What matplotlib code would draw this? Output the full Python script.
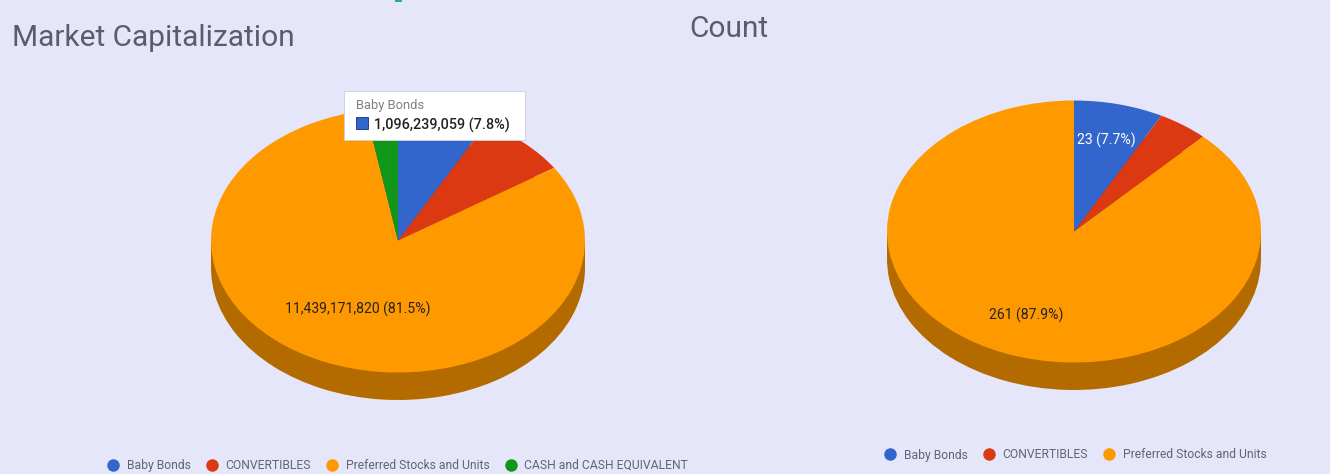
import matplotlib
matplotlib.use('Agg')
import matplotlib.pyplot as plt
from matplotlib.lines import Line2D
from matplotlib.patches import Rectangle

W, H = 1330, 474
BG = '#e6e6fa'
plt.rcParams['font.family'] = ['Roboto', 'DejaVu Sans']

# data
cap_labels = ['Baby Bonds', 'CONVERTIBLES', 'Preferred Stocks and Units', 'CASH and CASH EQUIVALENT']
cap_values = [1096239059, 1110000000, 11439171820, 391000000]
count_labels = ['Baby Bonds', 'CONVERTIBLES', 'Preferred Stocks and Units']
count_values = [23, 13, 261]

colors = ['#3366cc', '#dc3912', '#ff9900', '#109618']
dark_colors = ['#244a94', '#9f290d', '#b36b00', '#0b6b11']
title_color = '#5b5b6e'
legend_color = '#5f6675'


def px(x, y):
    return x / W, 1 - y / H


fig = plt.figure(figsize=(W / 100, H / 100), dpi=100, facecolor=BG)


def pie3d(values, cx, cy, rx, ry, depth):
    top = cy - ry
    bottom = cy + ry + depth
    ax = fig.add_axes([(cx - rx - 2) / W, 1 - (bottom + 2) / H, (2 * rx + 4) / W, (bottom - top + 4) / H])
    d = depth / ry
    n = len(values)
    # side of the pie: same slices moved down, then joined up with a band
    ax.pie(values, colors=dark_colors[:n], startangle=90, counterclock=False, center=(0, -d), radius=1)
    ax.add_patch(Rectangle((-1, -d), 2, d, color=dark_colors[2], lw=0))
    ax.pie(values, colors=colors[:n], startangle=90, counterclock=False, center=(0, 0), radius=1)
    ax.set_aspect('auto')
    ax.set_xlim(-1 - 2 / rx, 1 + 2 / rx)
    ax.set_ylim(-1 - d - 2 / ry, 1 + 2 / ry)
    ax.axis('off')
    return ax


pie3d(cap_values, 398, 240.5, 187, 132, 27.5)
pie3d(count_values, 1074, 231.5, 187, 131, 27.5)

fig.text(*px(12, 37.5), 'Market Capitalization', fontsize=21.5, color=title_color, va='center', ha='left')
fig.text(*px(689, 29), 'Count', fontsize=21.5, color=title_color, va='center', ha='left')

# slice labels
cap_total = sum(cap_values)
count_total = sum(count_values)
fig.text(*px(358, 309), f'{cap_values[2]:,} ({cap_values[2] / cap_total:.1%})', fontsize=10.1, color='#222222', ha='center', va='center')
fig.text(*px(1026, 315), f'{count_values[2]} ({count_values[2] / count_total:.1%})', fontsize=10.1, color='#222222', ha='center', va='center')
fig.text(*px(1106, 140), f'{count_values[0]} ({count_values[0] / count_total:.1%})', fontsize=10.1, color='white', ha='center', va='center')

# tooltip
over = fig.add_axes([0, 0, 1, 1], facecolor='none')
over.set_xlim(0, W)
over.set_ylim(H, 0)
over.axis('off')
over.add_patch(Rectangle((344.5, 91.5), 181, 49, color='#9a9aa8', alpha=0.5, lw=0))
over.add_patch(Rectangle((343.5, 90.5), 181, 49, facecolor='white', edgecolor='#cfcfd8', lw=0.6))
over.add_patch(Rectangle((356, 117), 11.5, 11.5, facecolor=colors[0], edgecolor='#26408a', lw=0.7))
over.text(356.5, 105.5, cap_labels[0], fontsize=9.3, color='#808080', va='center', ha='left')
over.text(374.5, 125, f'{cap_values[0]:,} ({cap_values[0] / cap_total:.1%})', fontsize=10.4, color='#222222',
          fontweight='medium', va='center', ha='left')
# small teal mark on the top edge
over.add_patch(Rectangle((395, 0), 7, 2, color='#2fa8a0', lw=0))


def legend(labels, x, y, spacing):
    handles = [Line2D([], [], ls='none', marker='o', ms=9, color=c, mew=0) for c in colors[:len(labels)]]
    fig.legend(handles, labels, ncol=len(labels), loc='center left', bbox_to_anchor=px(x, y),
               frameon=False, fontsize=8.7, labelcolor=legend_color, borderpad=0, borderaxespad=0,
               handlelength=1, handletextpad=0.62, columnspacing=spacing)


legend(cap_labels, 107, 465.5, 1.27)
legend(count_labels, 884, 455, 1.27)

fig.savefig('out.png', dpi=100, facecolor=BG)
